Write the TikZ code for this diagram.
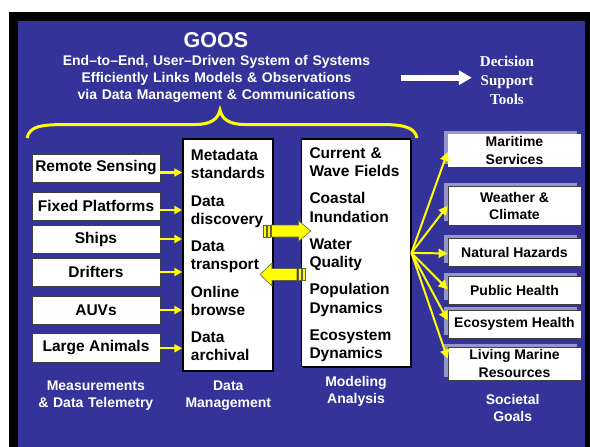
\documentclass[tikz,border=0pt]{standalone}
\usepackage{fontspec}
\setmainfont{Liberation Sans}
\newfontfamily\decfont{Liberation Serif}
\usetikzlibrary{arrows.meta,shadows}

\definecolor{slideblue}{RGB}{51,51,153}
\definecolor{goalshade}{RGB}{150,150,200}
\definecolor{arrowyellow}{RGB}{255,255,0}

\tikzset{
  srcbox/.style={draw=black!75, line width=.8pt, fill=white, minimum width=128pt,
    minimum height=28pt, inner sep=0pt, font=\fontsize{15.5}{18}\selectfont\bfseries},
  listbox/.style={draw=black, line width=1.5pt, fill=white, inner sep=0pt,
    drop shadow={shadow xshift=1.2pt, shadow yshift=-1.2pt, fill=black, opacity=1}},
  listtext/.style={anchor=base west, inner sep=0pt, text width=100pt, align=left,
    font=\fontsize{15.5}{18.2}\selectfont\bfseries},
  goalbox/.style={draw=black!75, line width=.8pt, fill=white, minimum width=133pt,
    minimum height=28pt, inner sep=0pt, align=center, font=\fontsize{14}{17.6}\selectfont\bfseries,
    drop shadow={shadow xshift=-4pt, shadow yshift=3.5pt, fill=goalshade, opacity=1}},
  footlabel/.style={anchor=base, inner sep=0pt, text width=140pt, align=center, text=white,
    font=\fontsize{14}{17.2}\selectfont\bfseries},
  feed/.style={arrowyellow, line width=2.2pt, -{Triangle[length=8pt,width=8pt]}},
  fan/.style={arrowyellow, line width=2pt, -{Triangle[length=9pt,width=9pt]}},
  blockarrow/.style={fill=arrowyellow, draw=black!70!yellow, line width=.6pt}
}

\begin{document}
\begin{tikzpicture}[x=1pt,y=-1pt]
  \useasboundingbox (0,0) rectangle (590,447);
  \fill[white] (0,0) rectangle (590,447);
  \fill[black] (9,12) rectangle (590,447);
  \fill[slideblue] (18,21) rectangle (585,447);

  % heading
  \node[anchor=base, inner sep=0pt, text=white, font=\fontsize{21.5}{24}\selectfont\bfseries]
    (goos) at (216,47.3) {GOOS};
  \node[anchor=base, inner sep=0pt, text width=340pt, align=center, text=white,
    font=\fontsize{14}{17}\selectfont\bfseries] (tagline) at (216.5,65.7)
    {End--to--End, User--Driven System of Systems\\
     Efficiently Links Models \& Observations\\
     via Data Management \& Communications};
  \node[anchor=base, inner sep=0pt, text width=70pt, align=center, text=white,
    font=\fontsize{15}{18.7}\decfont\bfseries] (dec) at (507,66.7) {Decision\\Support\\Tools};
  \coordinate (wtail) at (401,77.7);
  \draw[white, line width=6pt, -{Triangle[length=13pt,width=14pt]}] (wtail) -- (dec.west |- wtail);

  % brace
  \draw[arrowyellow, line width=3pt]
    (27,138) .. controls (30,126) and (40,124.5) .. (70,124.5) -- (195,124.5)
    .. controls (211,124.5) and (218,119) .. (220,110)
    .. controls (222,119) and (229,124.5) .. (245,124.5) -- (382,124.5)
    .. controls (405,124.5) and (415,128) .. (417,138);

  % measurements
  \node[srcbox] (rs)  at (96,168)   {Remote Sensing};
  \node[srcbox] (fp)  at (96,206)   {Fixed Platforms};
  \node[srcbox] (sh)  at (96,239)   {Ships};
  \node[srcbox] (dr)  at (96,272)   {Drifters};
  \node[srcbox] (auv) at (96,310)   {AUVs};
  \node[srcbox, minimum height=29pt] (la) at (96,347.5) {Large Animals};

  % data management and modeling
  \node[listbox, minimum width=90pt, minimum height=231.7pt] (dm) at (228,254.9) {};
  \node[listtext] (dmlist) at (190.7,160.7)
    {Metadata\\standards\\[9.1pt]Data\\discovery\\[9.1pt]Data\\transport\\[9.1pt]Online\\browse\\[9.1pt]Data\\archival};
  \node[listbox, minimum width=109pt, minimum height=227.7pt] (mod) at (356.2,252.85) {};
  \node[listtext] (modlist) at (309.3,158.3)
    {Current \&\\Wave Fields\\[9.1pt]Coastal\\Inundation\\[9.1pt]Water\\Quality\\[9.1pt]Population\\Dynamics\\[9.1pt]Ecosystem\\Dynamics};

  % societal goals
  \node[goalbox, draw=none, minimum height=33.3pt] (mar) at (514.5,150.7) {Maritime\\Services};
  \node[goalbox, minimum height=38.3pt] (wea) at (514.5,205.8) {Weather \&\\Climate};
  \node[goalbox, minimum height=28.4pt] (nat) at (514.5,252.5) {Natural Hazards};
  \node[goalbox, minimum height=27.3pt] (pub) at (514.5,290.3) {Public Health};
  \node[goalbox, minimum height=28.3pt] (eco) at (514.5,324.2) {Ecosystem Health};
  \node[goalbox, minimum height=32.7pt] (liv) at (514.5,363.7) {Living Marine\\Resources};

  % connectors
  \foreach \s/\dy in {rs/-4.5,fp/-4,sh/0,dr/0,auv/0,la/-0.8}
    \draw[feed] ([yshift=\dy pt]\s.east) -- ([yshift=\dy pt]\s.east -| dm.west);
  \foreach \g/\dy in {mar/-1.3,wea/0,nat/-1,pub/1,eco/4,liv/5}
    \draw[fan] (mod.east) -- ([yshift=\dy pt]\g.west);

  % block arrows
  \filldraw[blockarrow] (263.3,225) rectangle (265.8,237);
  \filldraw[blockarrow] (267.4,225) rectangle (269.9,237);
  \filldraw[blockarrow] (271.5,225) -- (298.5,225) -- (298.5,220.5) -- (310.7,231)
    -- (298.5,241.5) -- (298.5,237) -- (271.5,237) -- cycle;
  \filldraw[blockarrow] (260,274.5) -- (272,263) -- (272,268.5) -- (296.8,268.5)
    -- (296.8,280.5) -- (272,280.5) -- (272,286) -- cycle;
  \filldraw[blockarrow] (298.4,268.5) rectangle (300.9,280.5);
  \filldraw[blockarrow] (302.5,268.5) rectangle (305,280.5);

  % column labels
  \node[footlabel] (measlbl) at (95.8,390)  {Measurements\\\& Data Telemetry};
  \node[footlabel] (dmlbl)   at (228.3,390) {Data\\Management};
  \node[footlabel] (modlbl)  at (356,386.7) {Modeling\\Analysis};
  \node[footlabel] (goallbl) at (512.7,404) {Societal\\Goals};
\end{tikzpicture}
\end{document}
